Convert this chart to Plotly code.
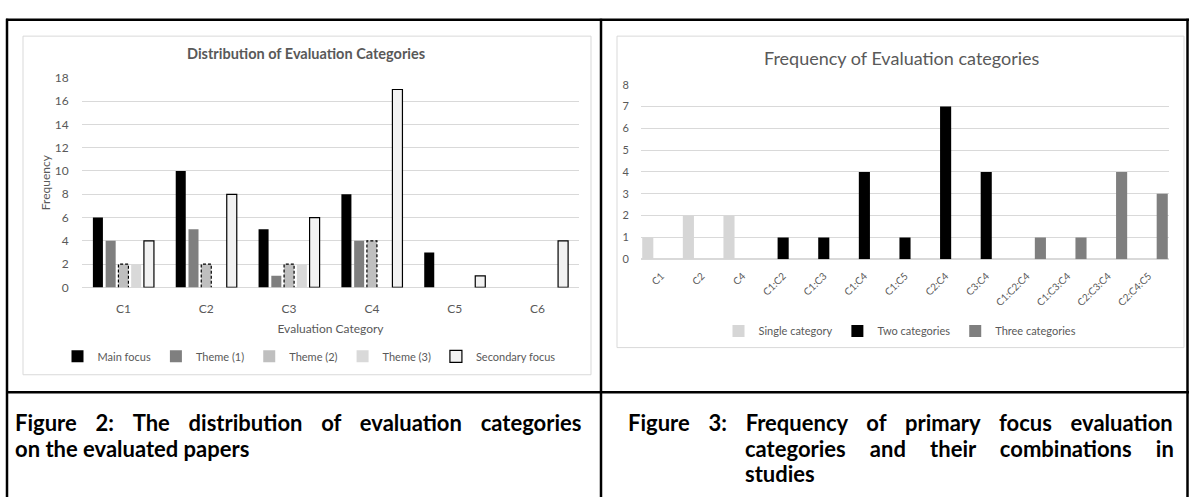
import plotly.graph_objects as go

W, H = 1189, 504

# ---------------- Left chart data ----------------
left_categories = ["C1", "C2", "C3", "C4", "C5", "C6"]
main_focus = [6, 10, 5, 8, 3, 0]
theme_1 = [4, 5, 1, 4, 0, 0]
theme_2 = [2, 2, 2, 4, 0, 0]
theme_3 = [2, 0, 2, 0, 0, 0]
secondary_focus = [4, 8, 6, 17, 1, 4]
left_series_names = ["Main focus", "Theme (1)", "Theme (2)", "Theme (3)", "Secondary focus"]
left_title = "Distribution of Evaluation Categories"
left_xtitle = "Evaluation Category"
left_ytitle = "Frequency"

# ---------------- Right chart data ----------------
right_categories = ["C1", "C2", "C4", "C1:C2", "C1:C3", "C1:C4", "C1:C5", "C2:C4",
                    "C3:C4", "C1:C2:C4", "C1:C3:C4", "C2:C3:C4", "C2:C4:C5"]
single_category = [1, 2, 2, None, None, None, None, None, None, None, None, None, None]
two_categories = [None, None, None, 1, 1, 4, 1, 7, 4, None, None, None, None]
three_categories = [None, None, None, None, None, None, None, None, None, 1, 1, 4, 3]
right_series_names = ["Single category", "Two categories", "Three categories"]
right_title = "Frequency of Evaluation categories"

# ---------------- Captions ----------------
cap_left = [["Figure", "2:", "The", "distribution", "of", "evaluation", "categories"],
            ["on", "the", "evaluated", "papers"]]
cap_right = [["Figure", "3:", "Frequency", "of", "primary", "focus", "evaluation"],
             ["categories", "and", "their", "combinations", "in"],
             ["studies"]]

FONT = "Lato, 'Open Sans', sans-serif"
CAPFONT = "Lato, sans-serif"
GREY = "#595959"
GRID = "#d9d9d9"


def px(x):
    return x / W


def py(y):
    return 1 - y / H


fig = go.Figure()

# Left bars: explicit slot geometry (category units)
pitch, bw = 0.154, 0.121
left_values = [main_focus, theme_1, theme_2, theme_3, secondary_focus]
left_fill = ["#000000", "#7f7f7f", "#bfbfbf", "#d9d9d9", "#f2f2f2"]
left_line = [("#000000", 0), ("#7f7f7f", 0), ("#bfbfbf", 0), ("#d9d9d9", 0), ("#000000", 1.2)]
xs = list(range(len(left_categories)))
offsets = []
for k, (name, vals) in enumerate(zip(left_series_names, left_values)):
    off = -2.5 * pitch + k * pitch + (pitch - bw) / 2
    offsets.append(off)
    fig.add_trace(go.Bar(
        x=xs, y=vals, name=name, offset=off, width=bw,
        marker=dict(color=left_fill[k], line=dict(color=left_line[k][0], width=left_line[k][1])),
        xaxis="x", yaxis="y", legend="legend", hoverinfo="x+y",
    ))

# dashed outline for Theme (2)
ox, oy = [], []
for i, v in zip(xs, theme_2):
    if v and v > 0:
        x0 = i + offsets[2]
        x1 = x0 + bw
        ox += [x0, x0, x1, x1, None]
        oy += [0, v, v, 0, None]
fig.add_trace(go.Scatter(x=ox, y=oy, mode="lines", line=dict(color="#000000", width=1.2, dash="3px,2px"),
                         xaxis="x", yaxis="y", showlegend=False, hoverinfo="skip"))

# Right bars
right_values = [single_category, two_categories, three_categories]
right_fill = ["#d6d6d6", "#000000", "#7f7f7f"]
for k, (name, vals) in enumerate(zip(right_series_names, right_values)):
    fig.add_trace(go.Bar(
        x=right_categories, y=vals, name=name,
        marker=dict(color=right_fill[k], line=dict(width=0)),
        xaxis="x2", yaxis="y2", legend="legend2",
    ))

fig.update_layout(
    width=W, height=H, margin=dict(l=0, r=0, t=0, b=0),
    paper_bgcolor="white", plot_bgcolor="rgba(0,0,0,0)",
    barmode="group", bargap=0.0, bargroupgap=0.18,
    font=dict(family=FONT, color=GREY, size=12),
    xaxis=dict(domain=[px(82), px(579)], range=[-0.5, 5.5], tickmode="array", tickvals=xs,
               ticktext=left_categories, showgrid=False, zeroline=False, showline=False,
               ticks="outside", ticklen=10, tickcolor="rgba(0,0,0,0)",
               tickfont=dict(size=12, color=GREY),
               title=dict(text=left_xtitle, font=dict(size=12, color=GREY), standoff=9)),
    yaxis=dict(domain=[py(288), py(72)], range=[0, 18], dtick=2, gridcolor=GRID, gridwidth=1,
               zeroline=True, zerolinecolor=GRID, zerolinewidth=1, showline=False,
               ticks="outside", ticklen=10, tickcolor="rgba(0,0,0,0)",
               tickfont=dict(size=12, color=GREY),
               title=dict(text=left_ytitle, font=dict(size=12, color=GREY), standoff=1)),
    xaxis2=dict(domain=[px(641), px(1169)], anchor="y2", type="category", showgrid=False,
                zeroline=False, showline=False, tickangle=-45,
                ticks="outside", ticklen=6, tickcolor="rgba(0,0,0,0)",
                tickfont=dict(size=10, color=GREY)),
    yaxis2=dict(domain=[py(259), py(79)], anchor="x2", range=[0, 8], dtick=1, gridcolor=GRID,
                gridwidth=1, zeroline=True, zerolinecolor=GRID, showline=False,
                ticks="outside", ticklen=9, tickcolor="rgba(0,0,0,0)",
                tickfont=dict(size=11, color=GREY)),
    legend=dict(orientation="h", x=px(309), xanchor="center", y=py(359), yanchor="middle",
                font=dict(size=11, color=GREY), itemwidth=30, bgcolor="rgba(0,0,0,0)",
                traceorder="normal", itemclick=False),
    legend2=dict(orientation="h", x=px(900), xanchor="center", y=py(333), yanchor="middle",
                 font=dict(size=11, color=GREY), itemwidth=30, bgcolor="rgba(0,0,0,0)",
                 traceorder="normal", itemclick=False),
)

shapes = []
# chart frames
shapes.append(dict(type="rect", xref="paper", yref="paper", x0=px(23), x1=px(591), y0=py(378), y1=py(29),
                   line=dict(color=GRID, width=1)))
shapes.append(dict(type="rect", xref="paper", yref="paper", x0=px(617), x1=px(1184), y0=py(350), y1=py(29),
                   line=dict(color=GRID, width=1)))
# table borders
BL = dict(color="black", width=2.5)
for (x0, y0, x1, y1) in [(6, 12, 1189, 12), (7, 11, 7, 504), (601, 11, 601, 504),
                          (6, 396, 1189, 396), (1187.5, 11, 1187.5, 504)]:
    shapes.append(dict(type="line", xref="paper", yref="paper", x0=px(x0), x1=px(x1),
                       y0=py(y0), y1=py(y1), line=BL))
fig.update_layout(shapes=shapes)

ann = []
ann.append(dict(text="<b>" + left_title + "</b>", x=px(306), y=py(47), xref="paper", yref="paper",
                showarrow=False, xanchor="center", yanchor="middle", font=dict(size=14.5, color=GREY)))
ann.append(dict(text=right_title, x=px(902), y=py(52), xref="paper", yref="paper",
                showarrow=False, xanchor="center", yanchor="middle", font=dict(size=18, color=GREY)))

NB = "\u00a0"
THIN = "\u2009"


def caption(lines, x_starts, ys, gaps):
    for words, xs0, yy, g in zip(lines, x_starts, ys, gaps):
        text = g.join(words)
        ann.append(dict(text="<b>" + text + "</b>", x=px(xs0), y=py(yy), xref="paper", yref="paper",
                        showarrow=False, xanchor="left", yanchor="middle",
                        font=dict(family=CAPFONT, size=22, color="black")))


caption(cap_left, [13, 13], [427, 454], [NB * 3 + THIN, NB])
caption(cap_right, [626, 743, 743], [427, 453.5, 480], [NB * 3 + THIN, NB * 4 + THIN, NB])
fig.update_layout(annotations=ann)

fig.write_html("out.html", config={"displayModeBar": False},
               post_script="document.body.style.margin='0px';")
